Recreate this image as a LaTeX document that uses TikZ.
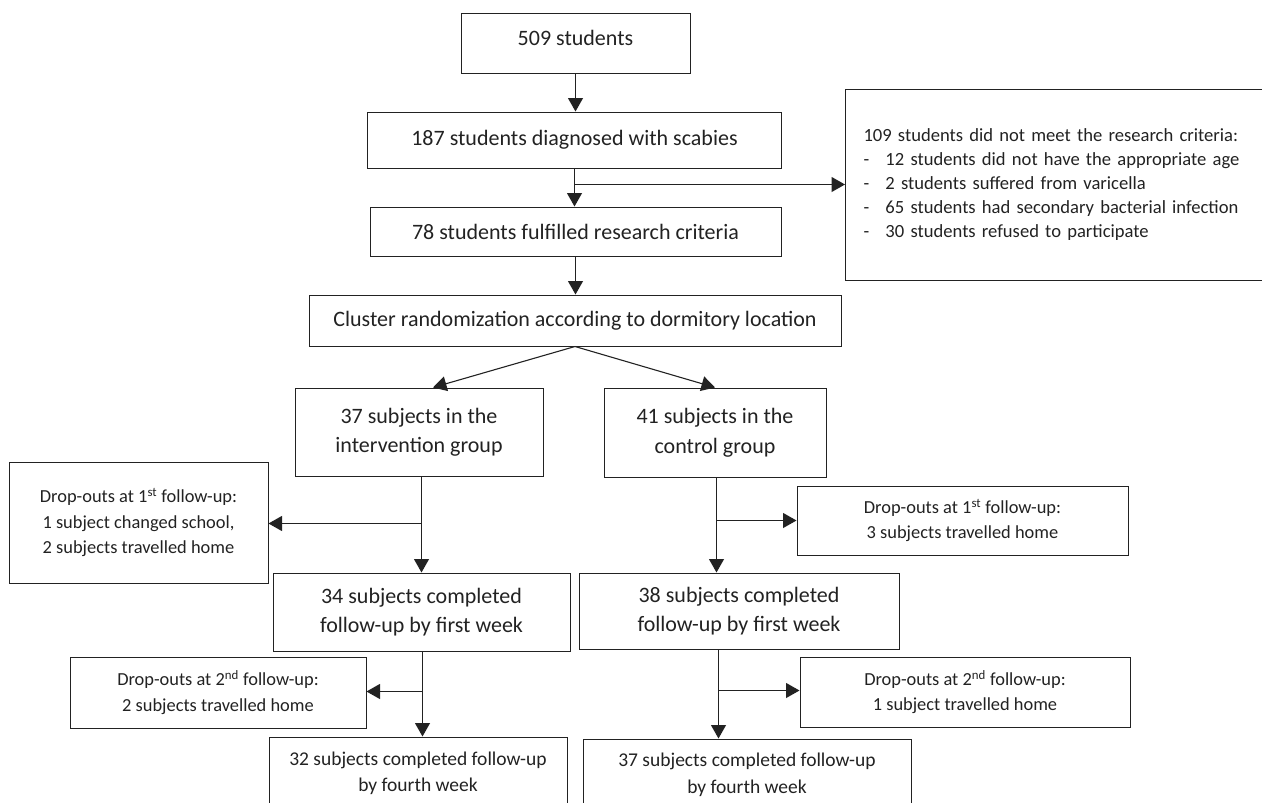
\documentclass[tikz,border=0pt]{standalone}
\usepackage{fontspec}
\setmainfont{Carlito}
\usetikzlibrary{arrows.meta,calc}
\definecolor{ink}{HTML}{222222}
\begin{document}
\begin{tikzpicture}[x=1pt,y=-1pt,
  box/.style={draw=ink, line width=1pt, text=ink, align=center, inner sep=0pt,
    font=\fontsize{22}{29.5}\selectfont},
  small/.style={font=\fontsize{18.4}{25.5}\selectfont},
  mid/.style={font=\fontsize{19.5}{26.5}\selectfont},
  arr/.style={draw=ink, line width=1.1pt, -{Triangle[length=13.5pt,width=15pt]}},
  ln/.style={draw=ink, line width=1.1pt}]
\useasboundingbox (0,0) rectangle (1262,803);
\clip (0,0) rectangle (1262,803);

\node[box, minimum width=229pt, minimum height=60pt] (n509) at (575.5,43)
  {\raisebox{0pt}[\height][\dimexpr\depth+10pt]{509 students}};
\node[box, minimum width=414pt, minimum height=56pt] (n187) at (574.5,140)
  {187 students diagnosed with scabies};
\node[box, minimum width=411pt, minimum height=49pt] (n78) at (575.5,231.5)
  {78 students fulfilled research criteria};
\node[box, minimum width=532pt, minimum height=51pt] (clus) at (575,320.5)
  {Cluster randomization according to dormitory location};
\node[box, anchor=west, text width=419pt, inner xsep=18pt, align=left,
  minimum height=191pt, font=\fontsize{18.6}{23.8}\selectfont] (crit) at (845,184.5)
  {109 students did not meet the research criteria:\\
   \makebox[22pt][l]{-}12 students did not have the appropriate age\\
   \makebox[22pt][l]{-}2 students suffered from varicella\\
   \makebox[22pt][l]{-}65 students had secondary bacterial infection\\
   \makebox[22pt][l]{-}30 students refused to participate};

\node[box, minimum width=248pt, minimum height=88pt] (interv) at (419,432)
  {37 subjects in the\\intervention group};
\node[box, minimum width=222pt, minimum height=89pt] (ctrl) at (715,432.5)
  {41 subjects in the\\control group};

\node[box, small, minimum width=259pt, minimum height=121pt] (d1L) at (138.5,522.5)
  {Drop-outs at 1\textsuperscript{st} follow-up:\\1 subject changed school,\\2 subjects travelled home};
\node[box, small, minimum width=331pt, minimum height=69pt] (d1R) at (962.5,520.5)
  {Drop-outs at 1\textsuperscript{st} follow-up:\\3 subjects travelled home};

\node[box, minimum width=297pt, minimum height=78pt] (n34) at (421.5,612)
  {34 subjects completed\\follow-up by first week};
\node[box, minimum width=320pt, minimum height=76pt] (n38) at (739,611)
  {38 subjects completed\\follow-up by first week};

\node[box, small, minimum width=296pt, minimum height=71pt] (d2L) at (218,692.5)
  {Drop-outs at 2\textsuperscript{nd} follow-up:\\2 subjects travelled home};
\node[box, small, minimum width=330pt, minimum height=70pt] (d2R) at (965,692)
  {Drop-outs at 2\textsuperscript{nd} follow-up:\\1 subject travelled home};

\node[box, mid, minimum width=298pt, minimum height=73pt] (n32) at (418,773.5)
  {32 subjects completed follow-up\\by fourth week};
\node[box, mid, minimum width=328pt, minimum height=72pt] (n37) at (747,775)
  {37 subjects completed follow-up\\by fourth week};

% connectors
\draw[arr] (n509.south) -- (n509.south |- n187.north);
\coordinate (br1) at ($(n187.south)+(0,16)$);
\draw[arr] (n187.south) -- (n187.south |- n78.north);
\draw[arr] (br1) -- (br1 -| crit.west);
\draw[arr] (n78.south) -- (n78.south |- clus.north);
\draw[arr] (clus.south) -- ([xshift=14pt]interv.north);
\draw[arr] (clus.south) -- (ctrl.north);

\coordinate (t1) at (n34.north |- interv.south);
\coordinate (br2) at ($(t1)+(0,47)$);
\draw[arr] (t1) -- (n34.north);
\draw[arr] (br2) -- (br2 -| d1L.east);

\coordinate (t2) at ([xshift=1.5pt]ctrl.south);
\coordinate (br3) at ($(t2)+(0,43)$);
\draw[arr] (t2) -- (t2 |- n38.north);
\draw[arr] (br3) -- (br3 -| d1R.west);

\coordinate (t3) at ([xshift=1pt]n34.south);
\coordinate (br4) at ($(t3)+(0,40)$);
\draw[arr] (t3) -- (t3 |- n32.north);
\draw[arr] (br4) -- (br4 -| d2L.east);

\coordinate (t4) at ([xshift=-20.5pt]n38.south);
\coordinate (br5) at ($(t4)+(0,41)$);
\draw[arr] (t4) -- (t4 |- n37.north);
\draw[arr] (br5) -- (br5 -| d2R.west);
\end{tikzpicture}
\end{document}
